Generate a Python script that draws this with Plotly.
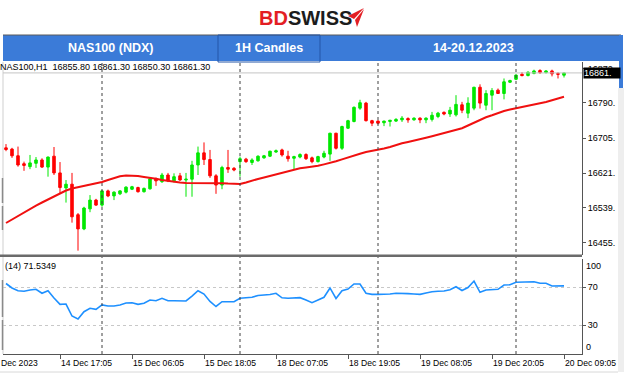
import plotly.graph_objects as go

W, H = 624, 376

# ---------------- data ----------------
bar_index = list(range(94))
open_ = [16682, 16679, 16663, 16644, 16637, 16645, 16653, 16636, 16662, 16622,
         16586, 16595, 16522, 16488, 16536, 16557, 16545, 16579, 16567, 16572,
         16576, 16583, 16587, 16577, 16584, 16608, 16601, 16617, 16603, 16615,
         16605, 16607, 16641, 16670, 16654, 16615, 16593, 16635, 16633, 16649,
         16655, 16647, 16651, 16658, 16662, 16672, 16677, 16662, 16657, 16660,
         16666, 16658, 16649, 16660, 16667, 16717, 16681, 16729, 16745, 16777,
         16789, 16747, 16746, 16742, 16745, 16746, 16749, 16752, 16749, 16753,
         16749, 16750, 16757, 16767, 16763, 16761, 16785, 16765, 16777, 16827,
         16784, 16808, 16820, 16812, 16839, 16846, 16858, 16855, 16860, 16867,
         16862, 16866, 16860, 16855.8]
high = [16691, 16682, 16685, 16649, 16665, 16660, 16657, 16661, 16684, 16648,
        16605, 16622, 16526, 16541, 16569, 16560, 16581, 16582, 16578, 16581,
        16590, 16591, 16589, 16587, 16610, 16611, 16622, 16622, 16621, 16622,
        16622, 16651, 16685, 16695, 16677, 16619, 16639, 16677, 16636, 16661,
        16658, 16657, 16664, 16665, 16675, 16678, 16680, 16675, 16663, 16669,
        16669, 16661, 16663, 16675, 16718, 16718, 16735, 16749, 16781, 16797,
        16792, 16749, 16748, 16747, 16749, 16753, 16758, 16755, 16755, 16755,
        16755, 16768, 16768, 16769, 16780, 16808, 16792, 16803, 16828, 16834,
        16820, 16825, 16824, 16848, 16845, 16858, 16863, 16865, 16869, 16870,
        16868, 16869, 16863, 16861.3]
low = [16674, 16658, 16637, 16627, 16631, 16634, 16634, 16613, 16617, 16574,
       16551, 16503, 16436, 16485, 16528, 16543, 16541, 16564, 16557, 16569,
       16573, 16581, 16575, 16575, 16582, 16591, 16598, 16600, 16599, 16603,
       16565, 16565, 16617, 16641, 16610, 16572, 16583, 16622, 16626, 16613,
       16646, 16641, 16649, 16656, 16660, 16670, 16661, 16649, 16629, 16657,
       16653, 16645, 16647, 16657, 16651, 16678, 16677, 16727, 16743, 16773,
       16745, 16734, 16738, 16734, 16733, 16744, 16744, 16742, 16747, 16741,
       16741, 16745, 16753, 16760, 16756, 16757, 16765, 16753, 16772, 16776,
       16772, 16772, 16811, 16798, 16837, 16844, 16853, 16853, 16858, 16859,
       16860, 16853, 16848, 16850.3]
close = [16678, 16663, 16641, 16640, 16646, 16653, 16636, 16660, 16622, 16587,
         16595, 16517, 16488, 16538, 16557, 16545, 16579, 16567, 16576, 16579,
         16588, 16589, 16577, 16585, 16608, 16603, 16617, 16603, 16613, 16605,
         16607, 16641, 16670, 16654, 16615, 16593, 16635, 16631, 16629, 16656,
         16649, 16653, 16662, 16663, 16674, 16675, 16665, 16656, 16661, 16666,
         16656, 16649, 16661, 16669, 16717, 16681, 16733, 16747, 16779, 16790,
         16747, 16741, 16741, 16746, 16748, 16750, 16753, 16749, 16753, 16749,
         16753, 16760, 16765, 16763, 16772, 16786, 16772, 16789, 16827, 16789,
         16812, 16819, 16812, 16840, 16843, 16856, 16855, 16863, 16866, 16862,
         16866, 16859, 16858, 16861.3]
ma_values = [16502.2, 16510.5, 16518.9, 16527.3, 16536.9, 16544.0, 16551.2, 16558.4, 16565.6, 16572.8,
             16579.9, 16584.7, 16587.8, 16590.7, 16593.1, 16596.7, 16600.3, 16605.1, 16609.8, 16613.9,
             16615.6, 16615.6, 16614.6, 16612.2, 16610.6, 16607.9, 16605.1, 16602.7, 16600.3, 16599.1,
             16597.9, 16597.9, 16598.4, 16598.6, 16598.6, 16597.9, 16597.2, 16596.4, 16595.5, 16595.5,
             16599.1, 16603.9, 16607.5, 16611.0, 16614.6, 16618.7, 16622.8, 16626.6, 16629.5, 16633.1,
             16635.0, 16636.6, 16639.0, 16642.4, 16645.7, 16649.8, 16654.4, 16659.4, 16663.7, 16667.8,
             16672.1, 16674.5, 16676.8, 16680.4, 16684.0, 16688.8, 16692.9, 16696.0, 16698.9, 16702.5,
             16706.0, 16709.6, 16713.2, 16716.8, 16720.6, 16724.2, 16728.8, 16735.5, 16742.2, 16749.1,
             16755.1, 16759.9, 16765.4, 16770.2, 16773.8, 16776.6, 16779.7, 16783.1, 16786.2, 16788.8,
             16791.7, 16795.8, 16800.3, 16804.4]
rsi_values = [74.0, 69.3, 66.4, 65.8, 67.2, 67.9, 63.7, 66.4, 58.7, 52.1,
              52.4, 39.8, 36.6, 44.3, 47.9, 46.8, 51.4, 50.3, 50.3, 51.4,
              53.5, 53.8, 52.1, 53.2, 56.6, 55.9, 58.4, 55.9, 55.9, 55.9,
              55.6, 60.8, 66.4, 62.9, 55.1, 49.8, 54.8, 54.8, 54.8, 58.4,
              58.7, 59.5, 61.4, 61.9, 62.4, 63.7, 58.9, 58.4, 58.7, 59.1,
              56.6, 53.8, 56.6, 59.5, 69.3, 58.2, 66.4, 68.2, 73.5, 73.5,
              63.7, 62.6, 62.6, 62.6, 62.9, 63.7, 63.7, 63.3, 62.9, 62.6,
              64.0, 65.4, 65.8, 66.1, 67.5, 70.6, 66.6, 69.8, 76.6, 64.7,
              67.2, 67.9, 67.9, 72.4, 72.7, 75.3, 75.3, 75.6, 75.9, 74.2,
              74.2, 71.4, 71.4, 71.5]

price_ticks = [16455, 16539, 16621, 16705, 16790, 16872]
price_tick_text = ["16455.", "16539.", "16621.", "16705.", "16790.", "16872."]
last_price = 16861.3
last_price_text = "16861."
time_tick_index = [9, 21, 33, 45, 57, 69, 81, 93]
time_tick_text = ["14 Dec 17:05", "15 Dec 06:05", "15 Dec 18:05", "18 Dec 07:05",
                  "18 Dec 19:05", "19 Dec 08:05", "19 Dec 20:05", "20 Dec 09:05"]
first_time_label = "14 Dec 2023"
day_separators = [16, 39, 62, 85]
rsi_levels = [30, 70]
rsi_level_text = ["30", "70"]
info_text = "NAS100,H1  16855.80 16861.30 16850.30 16861.30"
rsi_text = "(14) 71.5349"
header_texts = ["NAS100 (NDX)", "1H Candles", "14-20.12.2023"]

# ---------------- helpers (pixel -> paper) ----------------
def px(x):
    return x / W


def py(y):
    return 1 - y / H

FONT = "Liberation Sans, Arial, sans-serif"
GREEN = "#00e800"
RED = "#ff0000"
TXT = "#000000"

fig = go.Figure()
fig.add_trace(go.Candlestick(
    x=bar_index, open=open_, high=high, low=low, close=close,
    increasing=dict(line=dict(color=GREEN, width=1), fillcolor=GREEN),
    decreasing=dict(line=dict(color=RED, width=1), fillcolor=RED),
    whiskerwidth=0, xaxis="x", yaxis="y", hoverinfo="skip"))
fig.add_trace(go.Scatter(x=bar_index, y=ma_values, mode="lines",
                         line=dict(color="#f01010", width=2), xaxis="x", yaxis="y",
                         hoverinfo="skip"))
fig.add_trace(go.Scatter(x=bar_index, y=rsi_values, mode="lines",
                         line=dict(color="#1e90ff", width=1.6), xaxis="x2", yaxis="y2",
                         hoverinfo="skip"))

xdom = [px(3), px(582)]
xrange_ = [-0.5, 96]

shapes = []
# header band
shapes.append(dict(type="rect", xref="paper", yref="paper", x0=px(3), x1=px(621),
                   y0=py(61), y1=py(35), fillcolor="#3b7bd8", line=dict(width=0), layer="above"))
shapes.append(dict(type="line", xref="paper", yref="paper", x0=px(3), x1=px(621),
                   y0=py(35), y1=py(35), line=dict(color="#5a5a5a", width=1), layer="above"))
shapes.append(dict(type="rect", xref="paper", yref="paper", x0=px(218), x1=px(320),
                   y0=py(62), y1=py(35), fillcolor="rgba(0,0,0,0)",
                   line=dict(color="#2556a8", width=1), layer="above"))
# logo arrow
shapes.append(dict(type="path", xref="paper", yref="paper",
                   path=f"M {px(348)} {py(16)} L {px(364)} {py(8)} L {px(354)} {py(19)} Z",
                   fillcolor="#e31e24", line=dict(width=0)))
shapes.append(dict(type="path", xref="paper", yref="paper",
                   path=f"M {px(355)} {py(20)} L {px(364)} {py(9)} L {px(357)} {py(27)} Z",
                   fillcolor="#e31e24", line=dict(width=0)))
# right side window strip
shapes.append(dict(type="rect", xref="paper", yref="paper", x0=px(618), x1=px(624),
                   y0=py(372), y1=py(88), fillcolor="#eeeeee", line=dict(width=0)))
shapes.append(dict(type="rect", xref="paper", yref="paper", x0=px(619), x1=px(623),
                   y0=py(88), y1=py(35), fillcolor="#3b7bd8", line=dict(width=0)))
# left window edge
shapes.append(dict(type="line", xref="paper", yref="paper", x0=px(3), x1=px(3),
                   y0=py(354), y1=py(62), line=dict(color="#cfcfcf", width=1)))
for y0, y1 in [(178, 203), (206, 230), (280, 317), (320, 350)]:
    shapes.append(dict(type="line", xref="paper", yref="paper", x0=px(2.5), x1=px(2.5),
                       y0=py(y1), y1=py(y0), line=dict(color="#8a8a8a", width=1.5)))
# bid line
shapes.append(dict(type="line", xref="paper", yref="y", x0=px(3), x1=px(582),
                   y0=last_price, y1=last_price, line=dict(color="#c4c4c4", width=1)))
# day separators
for d in day_separators:
    shapes.append(dict(type="line", xref="x", yref="paper", x0=d, x1=d,
                       y0=py(354), y1=py(62), line=dict(color="#404040", width=1, dash="dot")))
# panel separator
shapes.append(dict(type="line", xref="paper", yref="paper", x0=0, x1=px(582),
                   y0=py(255.7), y1=py(255.7), line=dict(color="#6b6b6b", width=2.5)))
# bottom light line
shapes.append(dict(type="line", xref="paper", yref="paper", x0=0, x1=px(618),
                   y0=py(372), y1=py(372), line=dict(color="#d8d8d8", width=1)))

ann = []
ann.append(dict(xref="paper", yref="paper", x=px(257), y=py(18), xanchor="left", yanchor="middle",
                text='<b><span style="color:#e31e24">BD</span><span style="color:#1c1c1c">SWISS</span></b>',
                showarrow=False, font=dict(family=FONT, size=20)))
for txt, cx in zip(header_texts, [110, 269, 473]):
    ann.append(dict(xref="paper", yref="paper", x=px(cx), y=py(48.5), xanchor="center", yanchor="middle",
                    text=f"<b>{txt}</b>", showarrow=False,
                    font=dict(family=FONT, size=12.5, color="white")))
ann.append(dict(xref="paper", yref="paper", x=px(-2), y=py(66.5), xanchor="left", yanchor="middle",
                text=info_text, showarrow=False, font=dict(family=FONT, size=9, color=TXT)))
ann.append(dict(xref="paper", yref="paper", x=px(3), y=py(266), xanchor="left", yanchor="middle",
                text=rsi_text, showarrow=False, font=dict(family=FONT, size=9, color=TXT)))
ann.append(dict(xref="paper", yref="y", x=px(583), y=last_price, xanchor="left", yanchor="middle",
                text=last_price_text, showarrow=False, bgcolor="#000000", borderpad=0,
                width=36, height=10, align="left",
                font=dict(family=FONT, size=9, color="white")))
ann.append(dict(xref="paper", yref="paper", x=px(584), y=py(258.8), xanchor="left", yanchor="top",
                text="100", showarrow=False, font=dict(family=FONT, size=9, color=TXT)))
ann.append(dict(xref="paper", yref="paper", x=px(584), y=py(353.8), xanchor="left", yanchor="bottom",
                text="0", showarrow=False, font=dict(family=FONT, size=9, color=TXT)))
for i, t in zip(time_tick_index, time_tick_text):
    ann.append(dict(xref="x2", yref="paper", x=i, y=py(356), xanchor="left", yanchor="top", xshift=-1,
                    text=t, showarrow=False, font=dict(family=FONT, size=8.6, color=TXT)))
ann.append(dict(xref="paper", yref="paper", x=px(-13), y=py(356), xanchor="left", yanchor="top",
                text=first_time_label, showarrow=False, font=dict(family=FONT, size=8.6, color=TXT)))

fig.update_layout(
    width=W, height=H, margin=dict(l=0, r=0, t=0, b=0),
    paper_bgcolor="white", plot_bgcolor="white", showlegend=False,
    boxgap=0.4,
    xaxis=dict(domain=xdom, range=xrange_, anchor="y", showticklabels=False, ticks="",
               showgrid=False, zeroline=False, showline=False, rangeslider=dict(visible=False),
               fixedrange=True),
    yaxis=dict(domain=[py(255), py(62)], range=[16425.6, 16887.4], side="right", anchor="x",
               tickvals=price_ticks, ticktext=price_tick_text, ticks="outside", ticklen=3,
               tickcolor="#555555", showgrid=False, zeroline=False, showline=True,
               linecolor="#555555", linewidth=1,
               tickfont=dict(family=FONT, size=9, color=TXT)),
    xaxis2=dict(domain=xdom, range=xrange_, anchor="y2", showticklabels=False,
                tickvals=time_tick_index, ticks="outside", ticklen=4, tickcolor="#555555",
                showgrid=False, zeroline=False, showline=True, linecolor="#555555", linewidth=1),
    yaxis2=dict(domain=[py(353.8), py(258.8)], range=[0, 100], side="right", anchor="x2",
                tickvals=rsi_levels, ticktext=rsi_level_text, ticks="outside", ticklen=3,
                tickcolor="#555555", showgrid=True, gridcolor="#c8c8c8", griddash="dot",
                gridwidth=1, zeroline=False, showline=True, linecolor="#555555", linewidth=1,
                tickfont=dict(family=FONT, size=9, color=TXT)),
    shapes=shapes, annotations=ann,
)

fig.write_html("out.html", config=dict(displayModeBar=False),
               post_script="document.body.style.margin='0';document.body.style.overflow='hidden';")
